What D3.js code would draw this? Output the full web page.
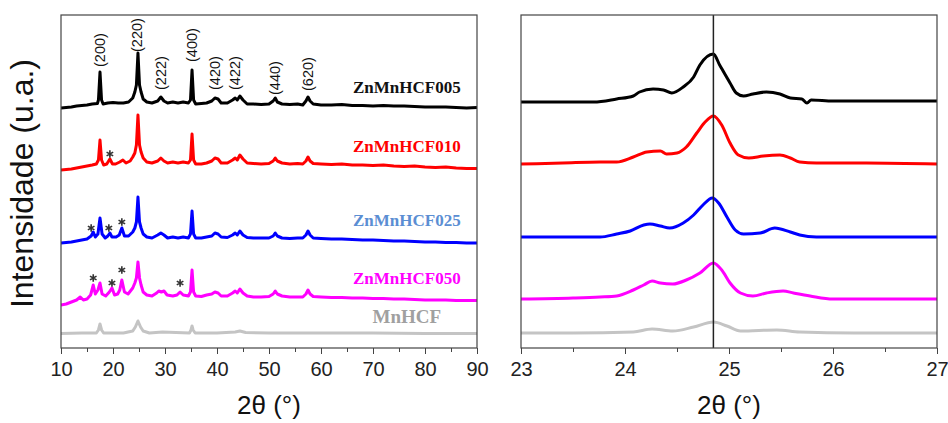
<!DOCTYPE html>
<html>
<head>
<meta charset="utf-8">
<script src="https://cdn.jsdelivr.net/npm/d3@7"></script>
<style>
body{margin:0;background:#fff;}
svg{display:block;}
</style>
</head>
<body>
<script>
// SERIES (2theta, intensity a.u., already stacked)
var names=["ZnMnHCF005","ZnMnHCF010","ZnMnHCF025","ZnMnHCF050","MnHCF"];
var colors=["#000000","#ff0000","#0000ff","#ff00ff","#c4c4c4"];
var labelColors=["#111111","#ff0000","#5b8ed3","#ff00ff","#a0a0a0"];
var labelX=[76.5,76.5,76.5,76.5,76.5];
var labelI=[255,196,122,64,25];

var wide005=[[10,240],[11,240.5],[12,241],[13,242],[14,242.5],[15,243],[16,244],[17,244.5],[17.2,248],[17.5,276],[17.8,248],[18.1,244],[19,245],[20,245.5],[21,245],[22,245],[23,246],[23.8,250],[24.2,256],[24.5,263],[24.8,295],[25.1,263],[25.4,256],[25.8,249],[26.5,246],[27.5,245],[28.6,247],[29.2,251],[29.8,247],[30.5,245],[31.5,246],[32.5,245],[33.5,246],[34.5,245],[34.9,248],[35.2,278],[35.5,248],[35.9,244],[37,244.5],[38,245],[39,247],[39.6,250],[40.2,249],[40.8,245],[42,245],[43,248],[43.5,250],[43.9,248],[44.4,252],[45,248],[45.8,244],[47,244],[48.5,243.5],[50,244],[50.8,247],[51.2,250],[51.6,246],[52.5,244],[54,243.5],[55.5,244],[56.5,243],[57.1,247],[57.5,251],[57.9,247],[58.5,244],[60,243],[62,243],[64,243.5],[66,242.5],[68,242.5],[70,242],[72,242.5],[74,242],[76,242],[78,241.5],[80,241],[82,241],[84,241],[86,240.5],[88,240],[90,240.5]];
var wide010=[[10,178],[11,178.5],[12,179],[13,180],[14,181],[15,182],[16,183],[16.8,184],[17.2,188],[17.5,208],[17.8,188],[18.2,183],[18.8,184],[19.4,189],[19.9,184],[20.5,184],[21.3,186],[21.9,188],[22.5,185],[23.3,187],[23.8,191],[24.2,195],[24.5,203],[24.8,233],[25.1,203],[25.4,196],[25.8,190],[26.5,186],[27.5,185],[28.6,187],[29.2,190],[29.8,187],[30.5,185],[31.5,186],[32.5,185],[33.5,186],[34.5,185],[34.9,188],[35.2,214],[35.5,188],[35.9,184],[37,184],[38,185],[39,187],[39.6,190],[40.2,189],[40.8,185],[42,185],[43,188],[43.5,190],[43.9,188],[44.4,193],[45,189],[45.8,185],[47,184.5],[48.5,184],[50,184.5],[50.8,187],[51.2,190],[51.6,187],[52.5,185],[54,184],[55.5,184.5],[56.5,184],[57.1,187],[57.5,191],[57.9,187],[58.5,184.5],[60,184],[62,183.5],[64,184],[66,183],[68,183],[70,182.5],[72,183],[74,182],[76,181.5],[78,182],[80,181],[82,180.5],[84,181],[86,180],[88,179.5],[90,179.5]];
var wide025=[[10,105],[11,105.5],[12,106],[13,107],[14,108],[15,109],[15.8,112],[16.2,116],[16.6,111],[17.1,114],[17.5,130],[17.9,114],[18.5,110],[19,112],[19.4,115],[19.8,111],[20.6,111],[21.2,113],[21.7,120],[22.2,112],[23,112],[23.8,116],[24.2,120],[24.5,126],[24.8,151],[25.1,126],[25.4,120],[25.8,114],[26.5,111],[27.5,110],[28.6,113],[29.2,115],[29.8,113],[30.5,110],[31.5,111],[32.5,110],[33.5,111],[34.5,110],[34.9,114],[35.2,137],[35.5,114],[35.9,110],[37,110],[38,111],[39,112],[39.6,115],[40.2,114],[40.8,111],[42,110.5],[43,113],[43.5,115],[43.9,113],[44.4,117],[45,113],[45.8,110.5],[47,110],[48.5,110],[50,110],[50.8,112],[51.2,115],[51.6,112],[52.5,110],[54,109.5],[55.5,110],[56.5,110],[57.1,113],[57.5,117],[57.9,113],[58.5,110],[60,109.5],[62,109],[64,109],[66,108.5],[68,108],[70,108],[72,107.5],[74,107],[76,107],[78,106.5],[80,106],[82,106],[84,105.5],[86,105.5],[88,105],[90,105]];
var wide050=[[10,43],[11,44],[12,46],[13,48],[13.7,51],[14.3,48],[15,49],[15.7,53],[16.2,63],[16.6,54],[17.1,58],[17.5,65],[17.9,54],[18.6,52],[19.3,56],[19.8,60],[20.3,53],[20.9,54],[21.3,58],[21.7,68],[22.2,56],[22.9,54],[23.8,60],[24.2,65],[24.5,70],[24.8,86],[25.1,70],[25.4,63],[25.8,56],[26.5,53],[27.5,52],[28.4,55],[28.8,57],[29.3,56],[29.8,57],[30.4,53],[31.5,52],[32.3,53],[32.9,56],[33.5,53],[34.5,52],[34.9,56],[35.2,78],[35.5,56],[35.9,52],[37,51.5],[38,53],[39,54],[39.6,56],[40.2,55],[40.8,52],[42,52],[43,55],[43.5,57],[43.9,55],[44.4,59],[45,55],[45.8,52],[47,51],[48.5,51],[50,51.5],[50.8,54],[51.2,57],[51.6,54],[52.5,52],[54,51],[55.5,51],[56.5,51],[57.1,54],[57.5,58],[57.9,54],[58.5,51.5],[60,51],[62,50.5],[64,50.5],[66,50],[68,50],[70,49.5],[72,49.5],[74,49],[76,49],[78,48.5],[80,48],[82,48],[84,48],[86,47.5],[88,47.5],[90,47.5]];
var wideMn=[[10,14.5],[14,15],[16.8,15],[17.2,18],[17.5,24],[17.8,18],[18.2,15],[22,15],[23.8,17],[24.3,21],[24.8,27],[25.3,21],[25.8,17],[27,15],[29.5,16],[34.7,15],[35,18],[35.2,22],[35.4,18],[35.8,15],[40,15],[43.5,16],[44.4,17],[45.5,15.5],[50,15],[60,15],[70,15],[80,14.5],[90,14.5]];

var zoom005=[[23,246],[23.4,246],[23.7,246],[23.92,249],[24.08,252],[24.14,256],[24.27,259],[24.37,258],[24.45,255],[24.56,261],[24.66,271],[24.72,283],[24.85,294],[24.91,283],[25.01,265],[25.07,255],[25.14,252],[25.23,254],[25.36,256],[25.49,254],[25.59,250],[25.7,249],[25.75,245],[25.79,248],[26,247],[26.3,247],[26.6,247],[27,247]];
var zoom010=[[23,184],[23.4,185],[23.76,186],[23.92,186],[24.08,191],[24.21,196],[24.34,197],[24.4,194],[24.5,195],[24.59,201],[24.69,215],[24.77,226],[24.85,232],[24.93,223],[25.01,205],[25.09,193],[25.19,190],[25.33,192],[25.49,193],[25.59,190],[25.68,186],[25.84,185],[26.32,185],[27,184]];
var zoom025=[[23,111],[23.5,111],[23.76,111],[23.92,114],[24.05,117],[24.18,123],[24.24,124],[24.34,122],[24.43,120],[24.56,125],[24.66,133],[24.75,143],[24.84,150],[24.9,145],[24.98,131],[25.06,118],[25.14,114],[25.3,115],[25.44,120],[25.59,116],[25.68,113],[25.84,111],[26.4,111],[27,111]];
var zoom050=[[23,49],[23.5,50],[23.76,51],[23.92,52],[24.08,58],[24.18,63],[24.26,67],[24.34,65],[24.46,64],[24.59,68],[24.72,75],[24.85,85],[24.93,78],[25.01,65],[25.11,55],[25.23,52],[25.36,55],[25.52,57],[25.62,55],[25.78,52],[26,49],[26.5,49],[27,49]];
var zoomMn=[[23,15],[23.5,15],[24.08,16],[24.26,19],[24.46,17],[24.66,21],[24.85,26],[24.98,22],[25.11,17],[25.46,18],[25.68,16],[26.2,15],[27,15]];

var wideData=[wide005,wide010,wide025,wide050,wideMn];
var zoomData=[zoom005,zoom010,zoom025,zoom050,zoomMn];

// hkl labels (2theta, intensity at label foot)
var hkl=["(200)","(220)","(222)","(400)","(420)","(422)","(440)","(620)"];
var hklPos=[17.5,24.6,29.2,35.2,39.6,43.5,51.2,57.5];
var hklI=[281,296,258,286,258,258,253,257];

// impurity stars
var stars=[[19.4,194],[15.8,120],[19.2,120],[21.7,126],[16.2,70],[19.8,65],[21.7,78],[32.9,65]];

var refLine=24.85;

//CANVAS
var W=948,H=423;
var top_=15,bottom_=348;
var leftPanel=[61,477], rightPanel=[521,937];

var svg=d3.select("body").append("svg").attr("width",W).attr("height",H);
svg.append("rect").attr("width",W).attr("height",H).attr("fill","white");

var y=d3.scaleLinear().domain([0,333]).range([bottom_,top_]);
var xL=d3.scaleLinear().domain([10,90]).range(leftPanel);
var xR=d3.scaleLinear().domain([23,27]).range(rightPanel);

function clip(id,x0,x1){
    svg.append("clipPath").attr("id",id).append("rect")
    .attr("x",x0).attr("y",top_).attr("width",x1-x0).attr("height",bottom_-top_);
}
clip("cL",leftPanel[0],leftPanel[1]);
clip("cR",rightPanel[0],rightPanel[1]);

function drawAxis(x,major,minor){
    svg.append("g").attr("transform","translate(0,"+bottom_+")")
    .call(d3.axisBottom(x).tickValues(minor).tickSize(4).tickFormat(""))
    .call(function(g){g.select(".domain").remove();g.selectAll("line").attr("stroke","#444");});
    var g=svg.append("g").attr("transform","translate(0,"+bottom_+")")
    .call(d3.axisBottom(x).tickValues(major).tickSize(6).tickPadding(8).tickFormat(d3.format("d")));
    g.select(".domain").remove();
    g.selectAll("line").attr("stroke","#444");
    g.selectAll("text").attr("font-family","Liberation Sans, Arial, sans-serif").attr("font-size",20).attr("fill","#222");
}

drawAxis(xL,d3.range(10,91,10),d3.range(15,90,10));
drawAxis(xR,[23,24,25,26,27],[23.5,24.5,25.5,26.5]);

// traces
var lineL=d3.line().x(function(d){return xL(d[0])}).y(function(d){return y(d[1])});
var lineR=d3.line().curve(d3.curveMonotoneX).x(function(d){return xR(d[0])}).y(function(d){return y(d[1])});

var gL=svg.append("g").attr("clip-path","url(#cL)");
gL.selectAll("path").data(wideData).enter().append("path")
    .attr("d",lineL).attr("fill","none")
    .attr("stroke",function(d,i){return colors[i]})
    .attr("stroke-width",3).attr("stroke-linejoin","round");

var gR=svg.append("g").attr("clip-path","url(#cR)");
gR.selectAll("path").data(zoomData).enter().append("path")
    .attr("d",lineR).attr("fill","none")
    .attr("stroke",function(d,i){return colors[i]})
    .attr("stroke-width",3).attr("stroke-linejoin","round");

svg.append("line")
    .attr("x1",xR(refLine)).attr("x2",xR(refLine))
    .attr("y1",top_).attr("y2",bottom_)
    .attr("stroke","#222").attr("stroke-width",1.5);

// frames
[leftPanel,rightPanel].forEach(function(p){
    svg.append("rect").attr("x",p[0]).attr("y",top_)
    .attr("width",p[1]-p[0]).attr("height",bottom_-top_)
    .attr("fill","none").attr("stroke","#444").attr("stroke-width",1.2);
});

// hkl labels
svg.selectAll("text.hkl").data(hkl).enter().append("text").attr("class","hkl")
    .attr("transform",function(d,i){return "translate("+(xL(hklPos[i])+5)+","+y(hklI[i])+") rotate(-90)"})
    .attr("font-family","Liberation Sans, Arial, sans-serif").attr("font-size",14.5)
    .attr("fill","#111").text(function(d){return d});

// sample names
svg.selectAll("text.name").data(names).enter().append("text").attr("class","name")
    .attr("x",function(d,i){return xL(labelX[i])})
    .attr("y",function(d,i){return y(labelI[i])})
    .attr("text-anchor","middle")
    .attr("font-family","Liberation Serif, Times New Roman, serif").attr("font-weight","bold")
    .attr("font-size",function(d,i){return i==4?19:17})
    .attr("fill",function(d,i){return labelColors[i]})
    .text(function(d){return d});

// stars
var star=d3.symbol().type(d3.symbolAsterisk||d3.symbolCross).size(40);
svg.selectAll("path.star").data(stars).enter().append("path").attr("class","star")
    .attr("d",star)
    .attr("transform",function(d){return "translate("+xL(d[0])+","+y(d[1])+")"})
    .attr("fill","none").attr("stroke","#333").attr("stroke-width",1.6);

// axis titles
svg.append("text").attr("x",(leftPanel[0]+leftPanel[1])/2).attr("y",414)
    .attr("text-anchor","middle").attr("font-family","Liberation Sans, Arial, sans-serif")
    .attr("font-size",26).attr("fill","#111").text("2θ (°)");
svg.append("text").attr("x",(rightPanel[0]+rightPanel[1])/2).attr("y",414)
    .attr("text-anchor","middle").attr("font-family","Liberation Sans, Arial, sans-serif")
    .attr("font-size",26).attr("fill","#111").text("2θ (°)");
svg.append("text").attr("transform","translate(33,"+((top_+bottom_)/2+2)+") rotate(-90)")
    .attr("text-anchor","middle").attr("font-family","Liberation Sans, Arial, sans-serif")
    .attr("font-size",32).attr("fill","#111").text("Intensidade (u.a.)");
</script>
</body>
</html>
